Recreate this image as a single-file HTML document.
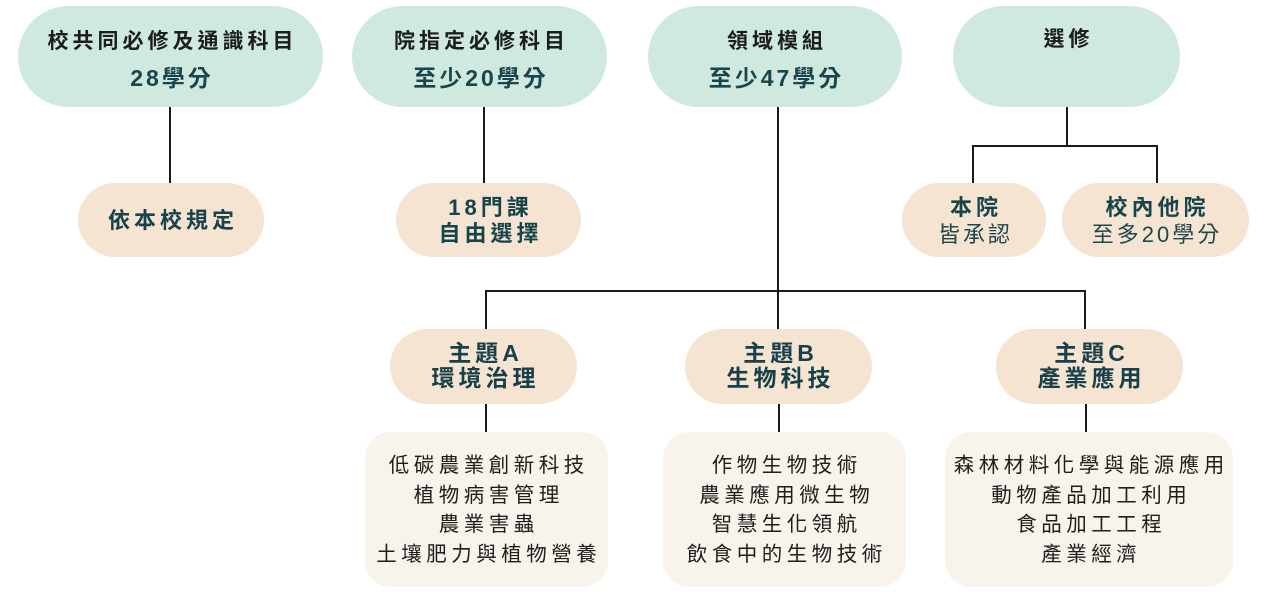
<!DOCTYPE html>
<html>
<head>
<meta charset="utf-8">
<style>
html,body{margin:0;padding:0;background:#fff;}
body{width:1278px;height:595px;position:relative;overflow:hidden;font-family:"Liberation Sans","Noto Sans CJK TC",sans-serif;}
.b{position:absolute;box-sizing:border-box;}
.mint{background:#d0e9df;border-radius:51px;}
.peach{background:#f6e4d2;border-radius:38px;}
.cream{background:#f8f4eb;border-radius:26px;}
.t{position:absolute;left:0;right:0;text-align:center;white-space:nowrap;}
.top1{font-weight:bold;font-size:21px;letter-spacing:4px;padding-left:4px;color:#1b1d1e;line-height:26px;}
.top2{font-weight:bold;font-size:23px;letter-spacing:3px;padding-left:3px;color:#1a454b;line-height:28px;}
.pk{font-weight:bold;font-size:22px;letter-spacing:4px;padding-left:4px;color:#17434a;line-height:26px;}
.pr{font-weight:normal;font-size:22px;letter-spacing:3px;padding-left:3px;color:#1e464c;line-height:28px;}
.th{font-weight:bold;font-size:23px;letter-spacing:4px;padding-left:4px;color:#17404a;line-height:25px;}
.ct{font-size:20.5px;letter-spacing:4.5px;padding-left:4.5px;color:#1e1e1e;line-height:29.6px;}
svg{position:absolute;left:0;top:0;}
</style>
</head>
<body>
<svg width="1278" height="595">
  <g stroke="#1a1a1a" stroke-width="2" fill="none">
    <line x1="170" y1="107" x2="170" y2="184"/>
    <line x1="484" y1="107" x2="484" y2="184"/>
    <line x1="1067" y1="107" x2="1067" y2="146"/>
    <polyline points="973,184 973,146 1157,146 1157,184"/>
    <line x1="778" y1="107" x2="778" y2="330"/>
    <polyline points="486,330 486,291 1085,291 1085,330"/>
    <line x1="486" y1="403" x2="486" y2="433"/>
    <line x1="779" y1="403" x2="779" y2="433"/>
    <line x1="1086" y1="403" x2="1086" y2="433"/>
  </g>
</svg>

<!-- top row -->
<div class="b mint" style="left:18px;top:6px;width:305px;height:101px;">
  <div class="t top1" style="top:23px;">校共同必修及通識科目</div>
  <div class="t top2" style="top:58px;">28學分</div>
</div>
<div class="b mint" style="left:352px;top:6px;width:255px;height:101px;">
  <div class="t top1" style="top:23px;">院指定必修科目</div>
  <div class="t top2" style="top:58px;">至少20學分</div>
</div>
<div class="b mint" style="left:648px;top:6px;width:254px;height:101px;">
  <div class="t top1" style="top:23px;">領域模組</div>
  <div class="t top2" style="top:58px;">至少47學分</div>
</div>
<div class="b mint" style="left:953px;top:6px;width:227px;height:101px;">
  <div class="t top1" style="top:21px;">選修</div>
</div>

<!-- second row -->
<div class="b peach" style="left:78px;top:183px;width:186px;height:74px;">
  <div class="t pk" style="top:25px;">依本校規定</div>
</div>
<div class="b peach" style="left:396px;top:183px;width:185px;height:74px;">
  <div class="t pk" style="top:12px;">18門課</div>
  <div class="t pk" style="top:38px;">自由選擇</div>
</div>
<div class="b peach" style="left:902px;top:183px;width:144px;height:74px;">
  <div class="t pk" style="top:12px;">本院</div>
  <div class="t pr" style="top:38px;">皆承認</div>
</div>
<div class="b peach" style="left:1062px;top:183px;width:187px;height:74px;">
  <div class="t pk" style="top:12px;">校內他院</div>
  <div class="t pr" style="top:38px;">至多20學分</div>
</div>

<!-- themes -->
<div class="b peach" style="left:390px;top:329px;width:187px;height:75px;">
  <div class="t th" style="top:12px;">主題A</div>
  <div class="t th" style="top:37px;">環境治理</div>
</div>
<div class="b peach" style="left:685px;top:329px;width:187px;height:75px;">
  <div class="t th" style="top:12px;">主題B</div>
  <div class="t th" style="top:37px;">生物科技</div>
</div>
<div class="b peach" style="left:996px;top:329px;width:187px;height:75px;">
  <div class="t th" style="top:12px;">主題C</div>
  <div class="t th" style="top:37px;">產業應用</div>
</div>

<!-- content -->
<div class="b cream" style="left:365px;top:432px;width:243px;height:155px;">
  <div class="t ct" style="top:19px;">低碳農業創新科技<br>植物病害管理<br>農業害蟲<br>土壤肥力與植物營養</div>
</div>
<div class="b cream" style="left:663px;top:432px;width:243px;height:155px;">
  <div class="t ct" style="top:19px;">作物生物技術<br>農業應用微生物<br>智慧生化領航<br>飲食中的生物技術</div>
</div>
<div class="b cream" style="left:945px;top:432px;width:288px;height:155px;">
  <div class="t ct" style="top:19px;">森林材料化學與能源應用<br>動物產品加工利用<br>食品加工工程<br>產業經濟</div>
</div>
</body>
</html>
